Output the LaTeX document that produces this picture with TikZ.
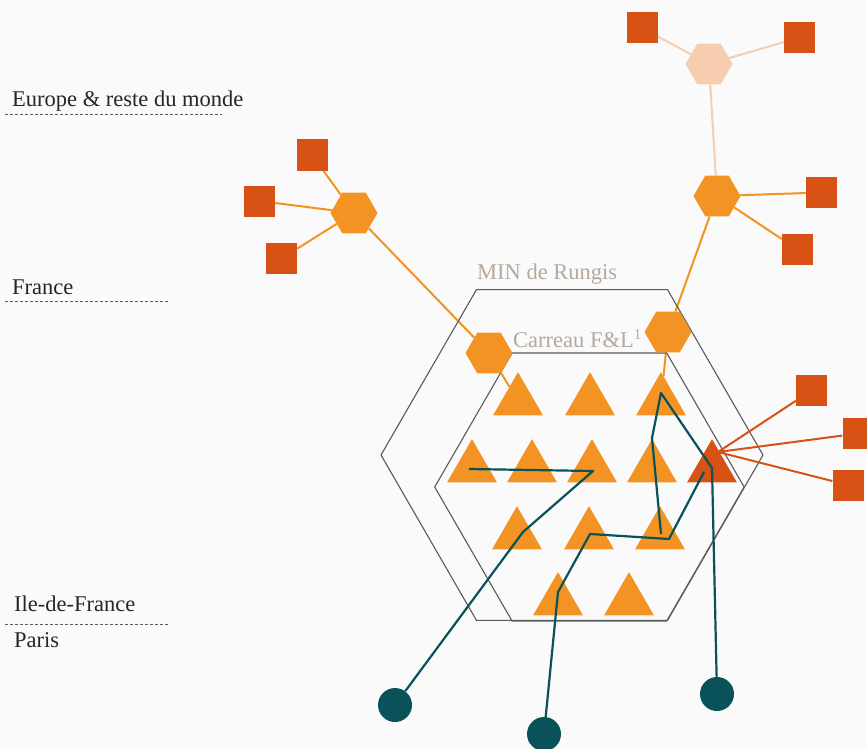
\documentclass[tikz,border=0pt]{standalone}
\usepackage{fontspec}
\setmainfont{Liberation Serif}
\usepackage{tikz}
\usetikzlibrary{shapes.geometric, calc, positioning}
\definecolor{orangeF}{RGB}{243,147,35}
\definecolor{rougeF}{RGB}{215,82,20}
\definecolor{peche}{RGB}{246,205,174}
\definecolor{canard}{RGB}{10,82,89}
\definecolor{taupe}{RGB}{181,169,158}
\definecolor{fond}{RGB}{250,250,250}
\definecolor{trait}{RGB}{90,90,90}
\pgfdeclarelayer{dessous}
\pgfsetlayers{dessous,main}

\tikzset{
  hexa/.style={regular polygon, regular polygon sides=6, minimum size=47pt, inner sep=0pt, fill=orangeF},
  carre/.style={rectangle, minimum size=31pt, inner sep=0pt, fill=rougeF},
  tri/.style={regular polygon, regular polygon sides=3, minimum size=57.7pt, inner sep=0pt, fill=orangeF},
  rond/.style={circle, minimum size=34pt, inner sep=0pt, fill=canard},
  zone/.style={regular polygon, regular polygon sides=6, draw=trait, line width=1.1pt, inner sep=0pt},
  lien/.style={orangeF, line width=2pt},
  parcours/.style={canard, line width=2.2pt, line join=round},
  niveau/.style={anchor=base west, text=black!85, inner sep=0pt, font=\fontsize{22.5}{26}\selectfont},
  limite/.style={trait, dash pattern=on 3pt off 2pt, line width=1pt},
}

\begin{document}
\begin{tikzpicture}[x=1pt, y=-1pt]
    \useasboundingbox (0,0) rectangle (867,749);
    \begin{pgfonlayer}{dessous}
        \fill[fond] (0,0) rectangle (867,749);
    \end{pgfonlayer}

    % niveaux
    \node[niveau] (lmonde) at (12,107) {Europe \& reste du monde};
    \node[niveau] (lfrance) at (12,294) {France};
    \node[niveau] (lidf) at (14,611) {Ile-de-France};
    \node[niveau] (lparis) at (14,647) {Paris};
    \draw[limite] (5,115) -- (222,115);
    \draw[limite] (5,301) -- (168,301);
    \draw[limite] (5,624) -- (168,624);

    % MIN et carreau
    \node[zone, minimum size=382pt] (rungis) at (572,455) {};
    \node[zone, minimum size=309.4pt] (carreau) at (589.4,487) {};
    \node[niveau, text=taupe] (lrungis) at (477,279) {MIN de Rungis};
    \node[niveau, text=taupe] (lcarreau) at (513,347) {Carreau F\&L{\fontsize{15}{15}\selectfont\raisebox{8pt}{1}}};

    % grossistes
    \foreach \x/\y/\n in {518/401/t11, 590/401/t12, 661/401/t13,
                          472/468/t21, 532/468/t22, 592/468/t23, 652/468/t24,
                          517/535/t31, 589/535/t32, 660/535/t33,
                          558/601/t41, 629/601/t42} {
        \node[tri] (\n) at (\x,\y) {};
    }
    \node[tri, fill=rougeF] (t25) at (712,468) {};
    \coordinate (t25c) at ($(t25.center)+(6,-16)$);

    % plateformes
    \node[hexa, fill=peche] (hm) at (709,64) {};
    \node[hexa] (hf1) at (354,213) {};
    \node[hexa] (hf2) at (717,196) {};
    \node[hexa] (hr1) at (489,353) {};
    \node[hexa] (hr2) at (668,332) {};

    % producteurs
    \foreach \x/\y/\n in {642/28/sm1, 799.5/37.5/sm2,
                          312/155/sf1, 259.5/201/sf2, 281.5/258.5/sf3,
                          821.5/192.5/sf4, 797.5/249.5/sf5,
                          811.5/390.5/si1, 858/433.5/si2, 848/485/si3} {
        \node[carre] (\n) at (\x,\y) {};
    }

    % flux amont
    \begin{pgfonlayer}{dessous}
        \draw[lien, peche] (hm) -- (sm1) (hm) -- (sm2) (hm) -- (hf2);
        \draw[lien] (hf1) -- (sf1) (hf1) -- (sf2) (hf1) -- (sf3) (hf1) -- (hr1) (hr1) -- (t11);
        \draw[lien] (hf2) -- (sf4) (hf2) -- (sf5) (hf2) -- (hr2) (hr2) -- (t13);
    \end{pgfonlayer}
    \draw[lien, rougeF] (t25c) -- (si1) (t25c) -- (si2) (t25c) -- (si3);

    % clients
    \node[rond] (c1) at (395,705) {};
    \node[rond] (c2) at (544,734) {};
    \node[rond] (c3) at (717,694) {};

    % parcours d'achat
    \coordinate (a1) at (523,532);
    \coordinate (a2) at (593,471);
    \coordinate (a3) at (469,469);
    \coordinate (b1) at (558,592);
    \coordinate (b2) at (590,534);
    \coordinate (b3) at (669,539);
    \coordinate (b4) at (704,472);
    \coordinate (d1) at (712,468);
    \coordinate (d2) at (661,393);
    \coordinate (d3) at (652,438);
    \coordinate (d4) at (661,534);
    \draw[parcours] (c1) -- (a1) -- (a2) -- (a3);
    \draw[parcours] (c2) -- (b1) -- (b2) -- (b3) -- (b4);
    \draw[parcours] (c3) -- (d1) -- (d2) -- (d3) -- (d4);
\end{tikzpicture}
\end{document}
